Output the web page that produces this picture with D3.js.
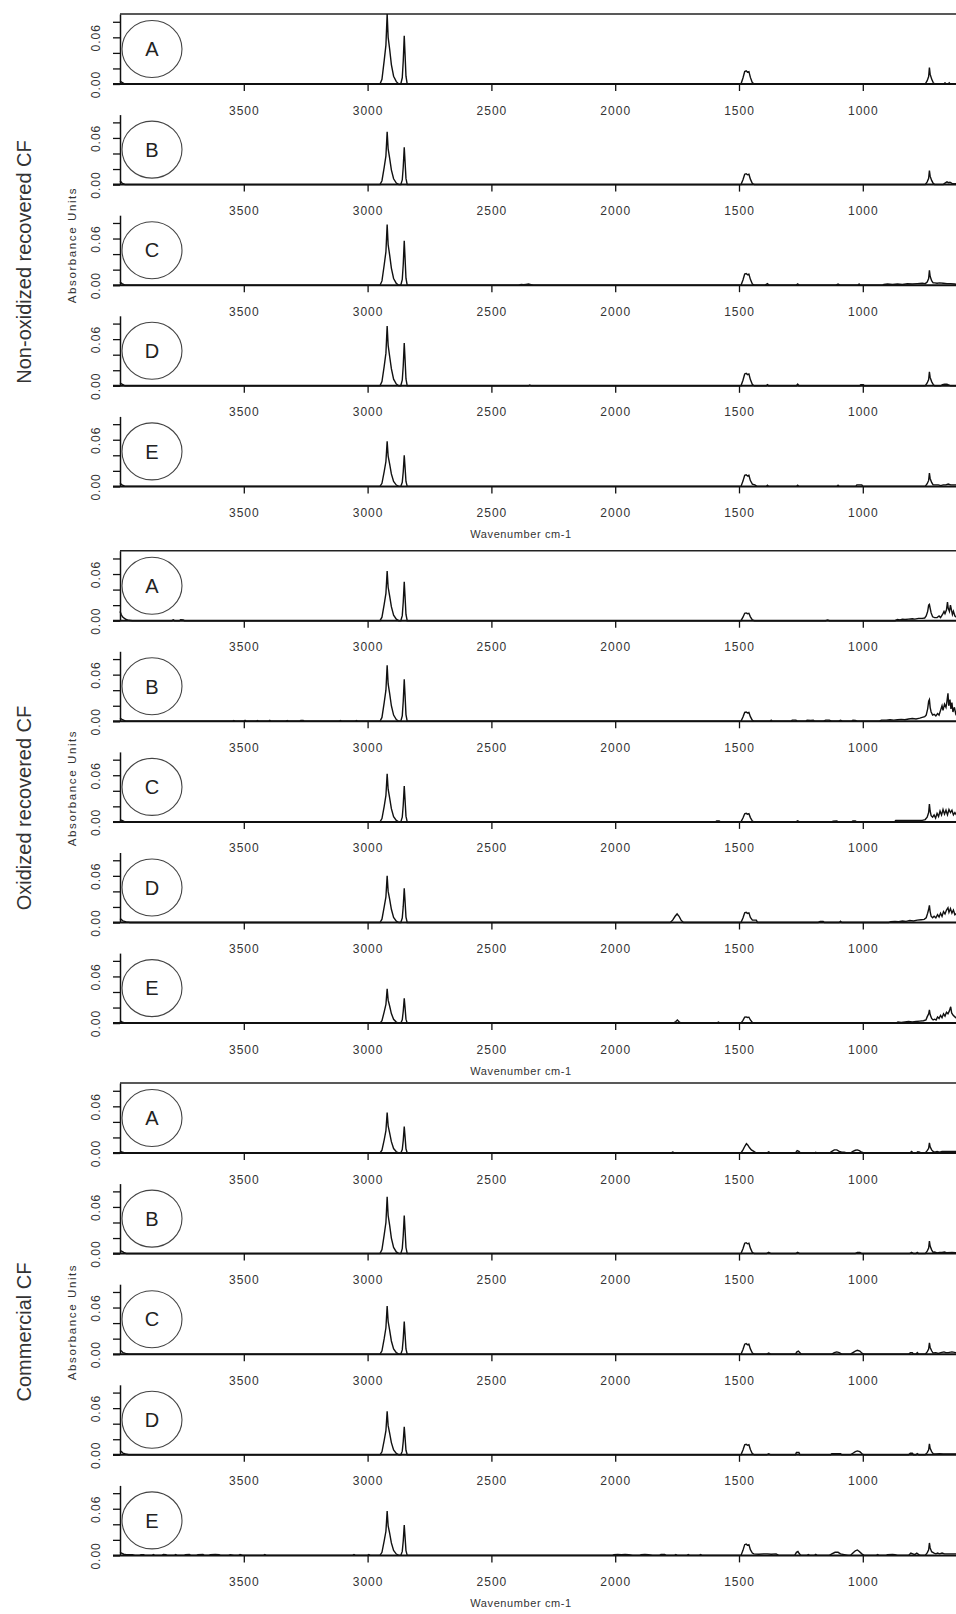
<!DOCTYPE html>
<html lang="en">
<head>
<meta charset="UTF-8">
<title>FTIR spectra of recovered and commercial CF</title>
<script src="https://d3js.org/d3.v7.min.js"></script>
<style>
  body { margin: 0; background: #fff; font-family: "Liberation Sans", Arial, sans-serif; }
  svg { display: block; }
  .tick text { font-size: 12px; fill: #333; letter-spacing: 1px; }
</style>
</head>
<body>
<div id="chart"></div>
<script>
const groupNames = ["Non-oxidized recovered CF", "Oxidized recovered CF", "Commercial CF"];
const panelLetters = ["A", "B", "C", "D", "E"];
const xTicks = [3500, 3000, 2500, 2000, 1500, 1000];
const yTicks = [0, 0.02, 0.04, 0.06, 0.08];
const yLabelled = [0, 0.06];
const xTitle = "Wavenumber cm-1";
const yTitle = "Absorbance Units";

// [wavenumber, absorbance]
const nonOxA = [[4000,.004],[3992,.002],[3980,0],
  [2950,0],[2942,.006],[2933,.030],[2926,.050],[2921,.090],[2917,.060],[2911,.045],[2904,.025],[2895,.010],[2884,.003],[2874,0],
  [2866,0],[2860,.008],[2856,.030],[2852,.062],[2849,.040],[2845,.010],[2840,0],
  [1492,0],[1484,.0077],[1477,.016],[1471,.017],[1466,.0153],[1460,.016],[1454,.0085],[1446,.0017],[1438,0],
  [748,0],[740,.0042],[734,.0095],[731,.021],[728,.0126],[722,.0063],[716,.0021],[710,0],
  [672,0],[668,.0015],[664,0],[655,0],[651,.0015],[647,0],[620,0]];
const nonOxB = [[4000,.005],[3992,.002],[3980,0],
  [2950,0],[2942,.005],[2933,.022],[2926,.037],[2921,.068],[2917,.046],[2911,.034],[2904,.019],[2895,.0075],[2884,.002],[2874,0],
  [2866,0],[2860,.006],[2856,.023],[2852,.048],[2849,.031],[2845,.008],[2840,0],
  [1492,0],[1484,.0063],[1477,.0133],[1471,.014],[1466,.0126],[1460,.0133],[1454,.007],[1446,.0014],[1438,0],
  [748,0],[740,.0036],[734,.0081],[731,.018],[728,.0108],[722,.0054],[716,.0018],[710,0],
  [675,0],[668,.002],[660,.0035],[654,.0025],[648,.003],[640,.0015],[630,.001],[620,.001]];
const nonOxC = [[4000,.004],[3992,.002],[3980,0],
  [2950,0],[2942,.0055],[2933,.026],[2926,.043],[2921,.078],[2917,.052],[2911,.039],[2904,.022],[2895,.0086],[2884,.0023],[2874,0],
  [2866,0],[2860,.0074],[2856,.027],[2852,.057],[2849,.037],[2845,.009],[2840,0],
  [2390,0],[2380,.001],[2370,.0005],[2360,.001],[2350,.0015],[2340,.0008],[2330,0],
  [1492,0],[1484,.0068],[1477,.0143],[1471,.015],[1466,.0135],[1460,.0143],[1454,.0075],[1446,.0015],[1438,0],
  [1395,0],[1385,.002],[1378,0],[1270,0],[1263,.0018],[1256,0],[1108,0],[1100,.0015],[1092,0],[1020,0],[1015,.0015],[1010,0],
  [920,0],[915,.001],[900,.0015],[880,.001],[860,.0015],[840,.001],[820,.0018],[800,.0015],[780,.002],[760,.0025],[748,.002],
  [740,.004],[734,.0086],[731,.019],[728,.0114],[722,.0057],[716,.003],[710,.003],[700,.0025],[690,.003],[675,.0025],[660,.002],[645,.002],[630,.0015],[620,.001]];
const nonOxD = [[4000,.004],[3992,.002],[3980,0],
  [2950,0],[2942,.0054],[2933,.025],[2926,.042],[2921,.077],[2917,.052],[2911,.038],[2904,.022],[2895,.0085],[2884,.0023],[2874,0],
  [2866,0],[2860,.0072],[2856,.026],[2852,.055],[2849,.036],[2845,.0088],[2840,0],
  [2350,0],[2345,.001],[2340,0],
  [1492,0],[1484,.0072],[1477,.0152],[1471,.016],[1466,.0144],[1460,.0152],[1454,.008],[1446,.0016],[1438,0],
  [1390,0],[1385,.0015],[1380,0],[1268,0],[1263,.002],[1258,0],[1012,0],[1008,.0015],[998,.0015],[994,0],
  [748,0],[740,.0036],[734,.0081],[731,.018],[728,.0108],[722,.0054],[716,.0018],[710,0],
  [685,0],[678,.0015],[670,.002],[660,.002],[652,.001],[645,0],[620,0]];
const nonOxE = [[4000,.004],[3992,.002],[3980,0],
  [2950,0],[2942,.004],[2933,.019],[2926,.032],[2921,.058],[2917,.039],[2911,.029],[2904,.016],[2895,.0064],[2884,.0017],[2874,0],
  [2866,0],[2860,.0052],[2856,.019],[2852,.040],[2849,.026],[2845,.0064],[2840,0],
  [1492,0],[1484,.0068],[1477,.0143],[1471,.015],[1466,.0135],[1460,.0143],[1454,.0075],[1446,.003],[1436,.002],[1428,0],
  [1390,0],[1385,.0015],[1380,0],[1268,0],[1263,.0015],[1258,0],[1105,0],[1100,.0015],[1095,0],[1028,0],[1024,.002],[1004,.002],[1000,0],
  [748,0],[740,.0034],[734,.0077],[731,.017],[728,.0102],[722,.0051],[716,.002],[705,.002],[695,.002],[685,.001],[675,.002],[665,.002],[655,.003],[645,.002],[630,.002],[620,.002]];

const oxA = [[4000,.012],[3995,.008],[3990,.005],[3982,.003],[3975,.0015],[3965,.0005],[3950,0],
  [3790,0],[3785,.001],[3780,0],[3760,0],[3755,.0012],[3745,.001],[3740,0],
  [2950,0],[2942,.0045],[2933,.021],[2926,.035],[2921,.064],[2917,.043],[2911,.032],[2904,.018],[2895,.007],[2884,.0019],[2874,0],
  [2866,0],[2860,.0065],[2856,.024],[2852,.050],[2849,.0325],[2845,.008],[2840,0],
  [1492,0],[1484,.0045],[1477,.0095],[1471,.010],[1466,.009],[1460,.0095],[1454,.005],[1446,.001],[1438,0],
  [1150,0],[1142,.001],[1135,0],
  [870,0],[860,.0015],[850,.001],[840,.002],[830,.0015],[815,.002],[800,.0025],[790,.002],[775,.003],[760,.003],[750,.0035],
  [744,.006],[738,.012],[734,.02],[731,.021],[728,.016],[724,.01],[718,.005],[710,.004],[700,.004],[692,.006],[686,.004],
  [678,.008],[672,.012],[668,.009],[662,.014],[658,.024],[655,.016],[650,.012],[646,.02],[642,.014],[638,.008],[634,.012],[628,.006],[620,.004]];
const oxB = [[4000,.004],[3990,.002],[3975,0],
  [3545,0],[3540,.001],[3535,0],[3500,0],[3495,.0012],[3490,0],[3450,0],[3445,.001],[3440,0],[3400,0],[3395,.0012],[3390,0],
  [3330,0],[3325,.001],[3320,0],[3275,0],[3270,.001],[3260,.001],[3255,0],[3115,0],[3110,.001],[3105,0],[3050,0],[3045,.001],[3040,0],
  [2950,0],[2942,.005],[2933,.024],[2926,.040],[2921,.072],[2917,.048],[2911,.036],[2904,.020],[2895,.008],[2884,.0022],[2874,0],
  [2866,0],[2860,.007],[2856,.026],[2852,.054],[2849,.035],[2845,.0086],[2840,0],
  [1492,0],[1484,.0054],[1477,.0114],[1471,.012],[1466,.0108],[1460,.0114],[1454,.006],[1446,.0012],[1438,0],
  [1375,0],[1370,.0015],[1365,0],[1290,0],[1285,.0015],[1270,.0015],[1265,0],[1230,0],[1225,.0015],[1210,.0012],[1200,.0015],[1195,0],
  [1160,0],[1150,.0015],[1135,.0015],[1125,0],[1100,0],[1090,.0012],[1080,0],[1045,0],[1040,.0015],[1030,.0012],[1020,0],
  [935,0],[925,.0015],[905,.0015],[890,.002],[875,.0015],[860,.002],[845,.0025],[830,.002],[815,.003],[800,.0035],[785,.003],[770,.004],[760,.005],[750,.006],
  [744,.008],[738,.016],[734,.026],[731,.028],[728,.018],[724,.012],[718,.008],[712,.009],[705,.007],[698,.01],[692,.008],
  [686,.014],[680,.02],[676,.014],[670,.022],[664,.018],[660,.026],[656,.036],[653,.02],[648,.028],[644,.016],[640,.024],[636,.012],[630,.018],[625,.01],[620,.014]];
const oxC = [[4000,.003],[3990,.0015],[3980,0],
  [2950,0],[2942,.0043],[2933,.020],[2926,.034],[2921,.062],[2917,.042],[2911,.031],[2904,.017],[2895,.0068],[2884,.0019],[2874,0],
  [2866,0],[2860,.006],[2856,.022],[2852,.046],[2849,.030],[2845,.0074],[2840,0],
  [1595,0],[1590,.0012],[1580,.0012],[1575,0],
  [1492,0],[1484,.005],[1477,.0105],[1471,.011],[1466,.0099],[1460,.0105],[1454,.0055],[1446,.0011],[1438,0],
  [1270,0],[1263,.0015],[1256,0],[1125,0],[1120,.001],[1105,.0012],[1100,0],[1045,0],[1040,.0012],[1030,.0012],[1025,0],
  [872,0],[867,.002],[760,.002],
  [748,.003],[740,.006],[734,.012],[731,.023],[728,.014],[724,.008],[718,.006],[712,.009],[706,.005],[700,.011],[694,.007],
  [688,.014],[682,.009],[676,.016],[670,.01],[664,.015],[658,.009],[652,.016],[646,.012],[640,.015],[634,.009],[628,.012],[620,.008]];
const oxD = [[4000,.005],[3995,.004],[3988,.002],[3975,.0008],[3960,0],
  [2950,0],[2942,.0042],[2933,.020],[2926,.033],[2921,.060],[2917,.040],[2911,.030],[2904,.017],[2895,.0066],[2884,.0018],[2874,0],
  [2866,0],[2860,.0057],[2856,.021],[2852,.044],[2849,.029],[2845,.007],[2840,0],
  [1778,0],[1768,.003],[1758,.008],[1750,.011],[1742,.008],[1734,.003],[1724,0],
  [1492,0],[1484,.0058],[1477,.0124],[1471,.013],[1466,.0117],[1460,.0124],[1454,.0065],[1446,.003],[1430,.003],[1425,0],
  [1180,0],[1172,.0012],[1160,.0012],[1155,0],[1095,0],[1090,.0015],[1085,0],
  [895,0],[887,.001],[870,.0015],[855,.001],[840,.002],[825,.0015],[810,.0025],[795,.002],[780,.003],[765,.0035],[752,.004],
  [744,.006],[738,.012],[734,.017],[731,.022],[728,.014],[724,.008],[718,.006],[712,.008],[705,.006],[698,.01],[692,.007],
  [686,.012],[680,.008],[674,.014],[668,.011],[662,.016],[656,.019],[652,.013],[646,.018],[640,.012],[634,.016],[628,.01],[620,.012]];
const oxE = [[4000,.003],[3992,.0015],[3980,0],
  [2950,0],[2942,.0031],[2933,.0145],[2926,.024],[2921,.044],[2917,.0295],[2911,.022],[2904,.0123],[2895,.0048],[2884,.0013],[2874,0],
  [2866,0],[2860,.0042],[2856,.0154],[2852,.032],[2849,.021],[2845,.0051],[2840,0],
  [1765,0],[1755,.002],[1749,.004],[1743,.002],[1735,0],[1590,0],[1583,.0012],[1576,0],
  [1492,0],[1484,.0036],[1477,.0076],[1471,.008],[1466,.0072],[1460,.0076],[1454,.004],[1446,.0008],[1438,0],
  [865,0],[858,.0015],[845,.001],[830,.0015],[815,.002],[800,.0015],[785,.002],[770,.0025],[755,.003],[745,.004],
  [740,.008],[734,.012],[731,.017],[728,.011],[722,.006],[716,.004],[710,.005],[704,.004],[698,.008],[692,.006],
  [686,.01],[680,.007],[674,.012],[668,.009],[662,.014],[656,.012],[650,.016],[645,.021],[641,.013],[635,.01],[628,.008],[620,.006]];

const comA = [[4000,.002],[3990,.001],[3980,0],
  [2950,0],[2942,.0036],[2933,.017],[2926,.0286],[2921,.052],[2917,.035],[2911,.026],[2904,.0146],[2895,.0057],[2884,.0016],[2874,0],
  [2866,0],[2860,.0044],[2856,.0163],[2852,.034],[2849,.022],[2845,.0054],[2840,0],
  [1775,0],[1768,.0012],[1760,0],
  [1492,0],[1484,.004],[1476,.009],[1470,.012],[1464,.010],[1458,.007],[1450,.004],[1440,.002],[1430,0],
  [1388,0],[1380,.0015],[1372,0],[1272,0],[1265,.003],[1258,.002],[1252,0],[1195,0],[1190,.001],[1185,0],
  [1135,0],[1125,.002],[1115,.004],[1105,.004],[1095,.002],[1085,.001],[1075,.001],[1065,0],
  [1050,0],[1040,.002],[1030,.0035],[1022,.004],[1014,.003],[1004,.001],[995,0],
  [810,0],[803,.002],[796,0],[785,0],[778,.0015],[770,.001],[765,0],
  [748,0],[740,.003],[734,.006],[731,.013],[728,.008],[722,.004],[716,.002],[710,.001],[700,.002],[690,.001],[680,.002],[670,.002],[660,.002],[645,.002],[630,.002],[620,.002]];
const comB = [[4000,.004],[3992,.003],[3985,.0015],[3975,0],
  [2950,0],[2942,.0051],[2933,.024],[2926,.040],[2921,.073],[2917,.049],[2911,.0365],[2904,.020],[2895,.008],[2884,.0022],[2874,0],
  [2866,0],[2860,.0064],[2856,.0235],[2852,.049],[2849,.032],[2845,.0078],[2840,0],
  [1492,0],[1484,.0063],[1477,.0133],[1471,.014],[1466,.0126],[1460,.0133],[1454,.007],[1446,.0014],[1438,0],
  [1388,0],[1380,.0015],[1372,0],[1270,0],[1263,.0015],[1256,0],[1030,0],[1022,.0015],[1012,.0015],[1005,0],
  [810,0],[803,.0015],[796,0],[785,0],[780,.0015],[775,0],
  [748,0],[740,.0032],[734,.0072],[731,.016],[728,.0096],[722,.0048],[716,.0016],[710,.002],[700,.001],[690,.0015],[680,.0015],[670,.002],[660,.001],[640,.0015],[620,.001]];
const comC = [[4000,.005],[3994,.004],[3988,.002],[3978,.001],[3965,0],
  [2950,0],[2942,.0043],[2933,.020],[2926,.034],[2921,.062],[2917,.042],[2911,.031],[2904,.017],[2895,.0068],[2884,.0019],[2874,0],
  [2866,0],[2860,.0055],[2856,.020],[2852,.042],[2849,.027],[2845,.0067],[2840,0],
  [1492,0],[1484,.0061],[1477,.0129],[1471,.0136],[1466,.0122],[1460,.0129],[1454,.0068],[1446,.0014],[1438,0],
  [1388,0],[1380,.0015],[1372,0],[1272,0],[1266,.003],[1260,.004],[1254,.002],[1248,0],
  [1125,0],[1115,.002],[1105,.003],[1095,.002],[1085,0],
  [1050,0],[1040,.002],[1030,.004],[1022,.005],[1012,.004],[1002,.001],[995,0],
  [815,0],[808,.002],[800,.002],[795,0],[785,0],[780,.002],[774,0],
  [748,0],[740,.0029],[734,.0065],[731,.0145],[728,.0087],[722,.0044],[716,.0015],[705,.002],[695,.001],[685,.002],[672,.003],[665,.002],[655,.002],[640,.003],[625,.002],[620,.002]];
const comD = [[4000,.005],[3994,.004],[3988,.002],[3978,.001],[3965,0],
  [2950,0],[2942,.0039],[2933,.0185],[2926,.031],[2921,.056],[2917,.0375],[2911,.028],[2904,.0157],[2895,.0062],[2884,.0017],[2874,0],
  [2866,0],[2860,.0047],[2856,.0173],[2852,.036],[2849,.0234],[2845,.0058],[2840,0],
  [1492,0],[1484,.0061],[1477,.0129],[1471,.0136],[1466,.0122],[1460,.0129],[1454,.0068],[1446,.0014],[1438,0],
  [1388,0],[1380,.0012],[1372,0],[1272,0],[1268,.003],[1258,.003],[1254,0],[1130,0],[1125,.0015],[1090,.0015],[1085,0],
  [1050,0],[1040,.002],[1030,.004],[1022,.005],[1012,.004],[1002,.001],[995,0],
  [815,0],[808,.002],[800,.002],[795,0],[785,0],[780,.0015],[774,0],
  [748,0],[740,.0028],[734,.0063],[731,.014],[728,.0084],[722,.0042],[716,.0014],[705,.001],[690,.0015],[675,.001],[660,.001],[640,.001],[620,.001]];
const comE = [[4000,.004],[3994,.003],[3985,.0015],[3975,.001],[3950,.001],[3940,0],
  [3920,0],[3915,.001],[3905,.001],[3900,0],[3870,0],[3865,.001],[3860,0],[3830,0],[3825,.0012],[3815,.001],[3810,0],
  [3780,0],[3775,.001],[3770,0],[3740,0],[3735,.001],[3720,.0012],[3715,0],[3690,0],[3685,.001],[3665,.0012],[3660,0],
  [3640,0],[3635,.001],[3615,.0012],[3600,.001],[3595,0],[3560,0],[3555,.001],[3540,0],[3520,0],[3515,.001],[3505,0],
  [3420,0],[3415,.001],[3410,0],[3060,0],[3055,.001],[3050,0],[3000,0],[2995,.001],[2990,0],
  [2950,0],[2942,.004],[2933,.0188],[2926,.031],[2921,.057],[2917,.038],[2911,.0285],[2904,.016],[2895,.0063],[2884,.0017],[2874,0],
  [2866,0],[2860,.0051],[2856,.0187],[2852,.039],[2849,.025],[2845,.0062],[2840,0],
  [2010,0],[2005,.001],[1990,.0012],[1975,.001],[1960,.0012],[1945,.001],[1930,0],[1900,0],[1895,.001],[1880,.0012],[1865,.001],[1850,0],
  [1820,0],[1815,.0012],[1800,.0012],[1795,0],[1760,0],[1755,.001],[1750,0],[1710,0],[1705,.001],[1700,0],[1660,0],[1655,.001],[1650,0],
  [1492,0],[1484,.0065],[1477,.0138],[1471,.0145],[1466,.013],[1460,.0138],[1454,.0073],[1446,.003],
  [1440,.002],[1420,.0015],[1400,.002],[1385,.002],[1370,.0015],[1350,.002],[1340,0],
  [1275,0],[1268,.004],[1262,.005],[1256,.002],[1250,0],[1225,0],[1220,.001],[1215,0],[1195,0],[1190,.0012],[1185,0],
  [1135,0],[1125,.002],[1112,.004],[1100,.004],[1090,.002],[1075,.001],[1060,0],
  [1050,0],[1040,.003],[1030,.006],[1022,.007],[1014,.005],[1004,.002],[995,0],
  [945,0],[940,.001],[935,0],[905,0],[900,.001],[880,.0012],[870,.001],[860,0],
  [815,0],[806,.003],[798,.002],[790,.001],[782,.003],[774,.001],[768,0],
  [748,0],[740,.0032],[734,.0072],[731,.016],[728,.0096],[722,.0048],[712,.003],[705,.002],[698,.003],[690,.002],[680,.003],[670,.002],[660,.002],[640,.002],[620,.002]];

const spectra = [
  [nonOxA, nonOxB, nonOxC, nonOxD, nonOxE],
  [oxA, oxB, oxC, oxD, oxE],
  [comA, comB, comC, comD, comE]
];

const width = 956, height = 1614;
const plotLeft = 120;
const groupBase = [84, 620.7, 1153];   // baseline of panel A in each group
const panelGap = 100.6, panelH = 70;
const groupTitleY = [262, 808, 1332];
const yTitleY = [245, 788, 1322];

const svg = d3.select("#chart").append("svg")
  .attr("width", width)
  .attr("height", height);

const x = d3.scaleLinear()
  .domain([4000, 400])
  .range([plotLeft, plotLeft + 3600 * 0.2476]);

const line = d3.line();

spectra.forEach((group, gi) => {
  group.forEach((data, pi) => {
    const base = groupBase[gi] + pi * panelGap;
    const y = d3.scaleLinear().domain([0, 0.09]).range([base, base - panelH]);
    const g = svg.append("g");

    // x axis ticks + labels
    const gx = g.append("g")
      .attr("transform", `translate(0,${base})`)
      .call(d3.axisBottom(x).tickValues(xTicks).tickSize(7).tickPadding(15)
        .tickSizeOuter(0).tickFormat(d3.format("d")));
    gx.select(".domain").remove();
    gx.selectAll(".tick line").attr("stroke", "#111").attr("stroke-width", 1.3);

    // y axis
    const gy = g.append("g")
      .attr("transform", `translate(${plotLeft},0)`)
      .call(d3.axisLeft(y).tickValues(yTicks).tickSize(7).tickSizeOuter(0)
        .tickFormat(d => yLabelled.includes(d) ? d3.format(".2f")(d) : ""));
    gy.select(".domain").attr("stroke", "#111").attr("stroke-width", 1.5);
    gy.selectAll(".tick line").attr("stroke", "#111").attr("stroke-width", 1.3);
    gy.selectAll(".tick text")
      .attr("x", 0).attr("dy", null)
      .attr("text-anchor", "middle")
      .attr("transform", "translate(-20,0) rotate(-90)");

    // baseline
    g.append("line")
      .attr("x1", plotLeft - 7).attr("x2", width)
      .attr("y1", base).attr("y2", base)
      .attr("stroke", "#111").attr("stroke-width", 2);

    // top frame on the first panel of each group
    if (pi === 0) {
      g.append("line")
        .attr("x1", plotLeft).attr("x2", width)
        .attr("y1", base - panelH).attr("y2", base - panelH)
        .attr("stroke", "#222").attr("stroke-width", 1.5);
    }

    line.x(d => x(d[0])).y(d => y(d[1]));
    g.append("path")
      .datum(data)
      .attr("d", line)
      .attr("fill", "none")
      .attr("stroke", "#111")
      .attr("stroke-width", 1.4);

    // circled panel letter
    g.append("ellipse")
      .attr("cx", 152).attr("cy", base - 35)
      .attr("rx", 30).attr("ry", 28.5)
      .attr("fill", "none")
      .attr("stroke", "#444")
      .attr("stroke-width", 1.1);
    g.append("text")
      .attr("x", 152).attr("y", base - 35)
      .attr("dy", "0.36em")
      .attr("text-anchor", "middle")
      .style("font-size", "20px")
      .style("fill", "#222")
      .text(panelLetters[pi]);
  });

  const lastBase = groupBase[gi] + 4 * panelGap;
  svg.append("text")
    .attr("x", 521).attr("y", lastBase + 52)
    .attr("text-anchor", "middle")
    .style("font-size", "11px")
    .style("letter-spacing", "0.6px")
    .style("fill", "#333")
    .text(xTitle);

  svg.append("text")
    .attr("transform", `translate(76,${yTitleY[gi]}) rotate(-90)`)
    .attr("text-anchor", "middle")
    .style("font-size", "11.5px")
    .style("letter-spacing", "1.6px")
    .style("fill", "#333")
    .text(yTitle);

  svg.append("text")
    .attr("transform", `translate(31,${groupTitleY[gi]}) rotate(-90)`)
    .attr("text-anchor", "middle")
    .style("font-size", "20px")
    .style("fill", "#333")
    .text(groupNames[gi]);
});
</script>
</body>
</html>
